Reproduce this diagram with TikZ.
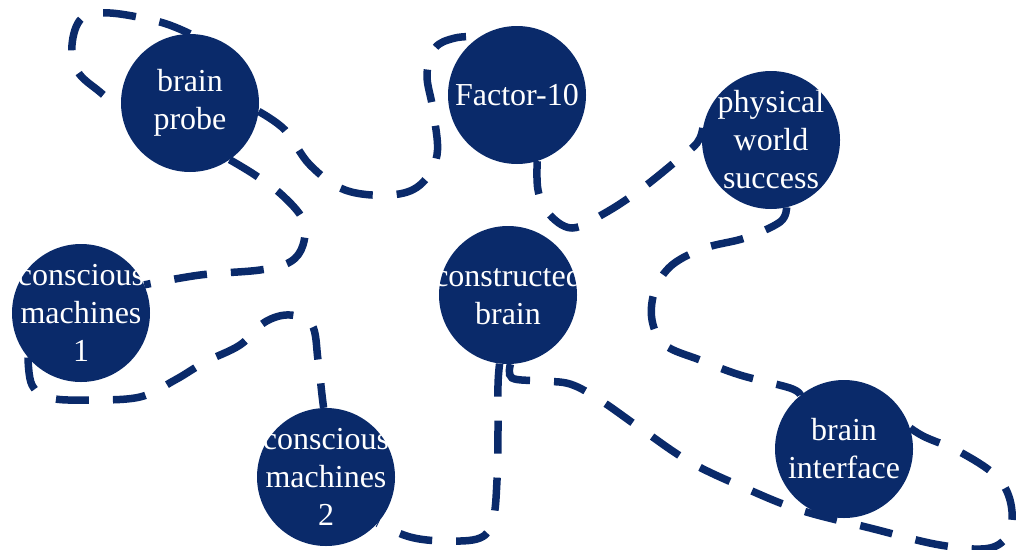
\documentclass[tikz,border=0pt]{standalone}
\usepackage{fontspec}
\setmainfont{Liberation Serif}
\definecolor{navy}{HTML}{0A2A6A}
\pgfdeclarelayer{bg}
\pgfsetlayers{bg,main}
\begin{document}
\begin{tikzpicture}[x=1pt,y=-1pt,
  bub/.style={circle, fill=navy, draw=none, minimum size=138pt, inner sep=0pt},
  lbl/.style={text=white, font=\fontsize{32}{38}\selectfont, align=center, inner sep=0pt},
  link/.style={draw=navy, line width=7.5pt, dash pattern=on 33pt off 24pt}]
\useasboundingbox (0,0) rectangle (1016,549);

% nodes
\node[bub] (bp)  at (190,103) {};
\node[bub] (f10) at (517,95)  {};
\node[bub] (pws) at (771,140) {};
\node[bub] (cb)  at (508,295) {};
\node[bub] (cm1) at (81,313)  {};
\node[bub] (cm2) at (326,477) {};
\node[bub] (bi)  at (844,449) {};

\node[lbl] (bp-t)  at (bp)  {brain\\probe};
\node[lbl] (f10-t) at (f10) {Factor-10};
\node[lbl] (pws-t) at (pws) {physical\\world\\success};
\node[lbl] (cb-t)  at (cb)  {constructed\\brain};
\node[lbl] (cm1-t) at (cm1) {conscious\\machines\\1};
\node[lbl] (cm2-t) at (cm2) {conscious\\machines\\2};
\node[lbl] (bi-t)  at (bi)  {brain\\interface};

\begin{pgfonlayer}{bg}
% brain probe -> Factor-10
\draw[link] plot[smooth, tension=0.6] coordinates {(bp.-7) (285,130) (310,165) (345,190) (390,195) (420,185) (437,155) (433,110) (427,75) (435,48) (455,38) (f10.122)};
% brain probe -> conscious machines 1
\draw[link] plot[smooth, tension=0.6] coordinates {(bp.-55) (255,175) (282,195) (303,220) (303,245) (290,262) (260,270) (200,275) (cm1.24)};
% brain probe self loop
\draw[link] plot[smooth, tension=0.6] coordinates {(bp.90) (160,22) (110,13) (82,18) (72,45) (78,72) (100,92) (bp.185)};
% Factor-10 -> physical world success
\draw[link] plot[smooth, tension=0.6] coordinates {(f10.-73) (538,190) (548,213) (572,228) (605,213) (640,190) (675,162) (697,143) (pws.170)};
% physical world success -> brain interface
\draw[link] plot[smooth, tension=0.6] coordinates {(pws.-77) (780,222) (745,238) (705,248) (672,265) (655,290) (652,320) (665,345) (700,360) (740,375) (790,388) (bi.129)};
% constructed brain -> conscious machines 2
\draw[link] plot[smooth, tension=0.6] coordinates {(cb.-97) (498,385) (498,430) (497,480) (493,520) (480,538) (445,541) (410,537) (cm2.-42)};
% constructed brain -> brain interface
\draw[link] plot[smooth, tension=0.6] coordinates {(cb.-88) (512,378) (540,381) (570,384) (600,400) (640,428) (690,462) (745,488) (800,510) (870,528) (940,545) (990,548) (1010,530) (1010,500) (995,475) (960,452) (925,437) (bi.18)};
% conscious machines 1 -> conscious machines 2
\draw[link] plot[smooth, tension=0.6] coordinates {(cm1.-140) (32,385) (50,398) (90,400) (140,397) (175,380) (205,362) (240,345) (265,322) (290,315) (312,325) (318,360) (322,395) (cm2.92)};
\end{pgfonlayer}
\end{tikzpicture}
\end{document}
